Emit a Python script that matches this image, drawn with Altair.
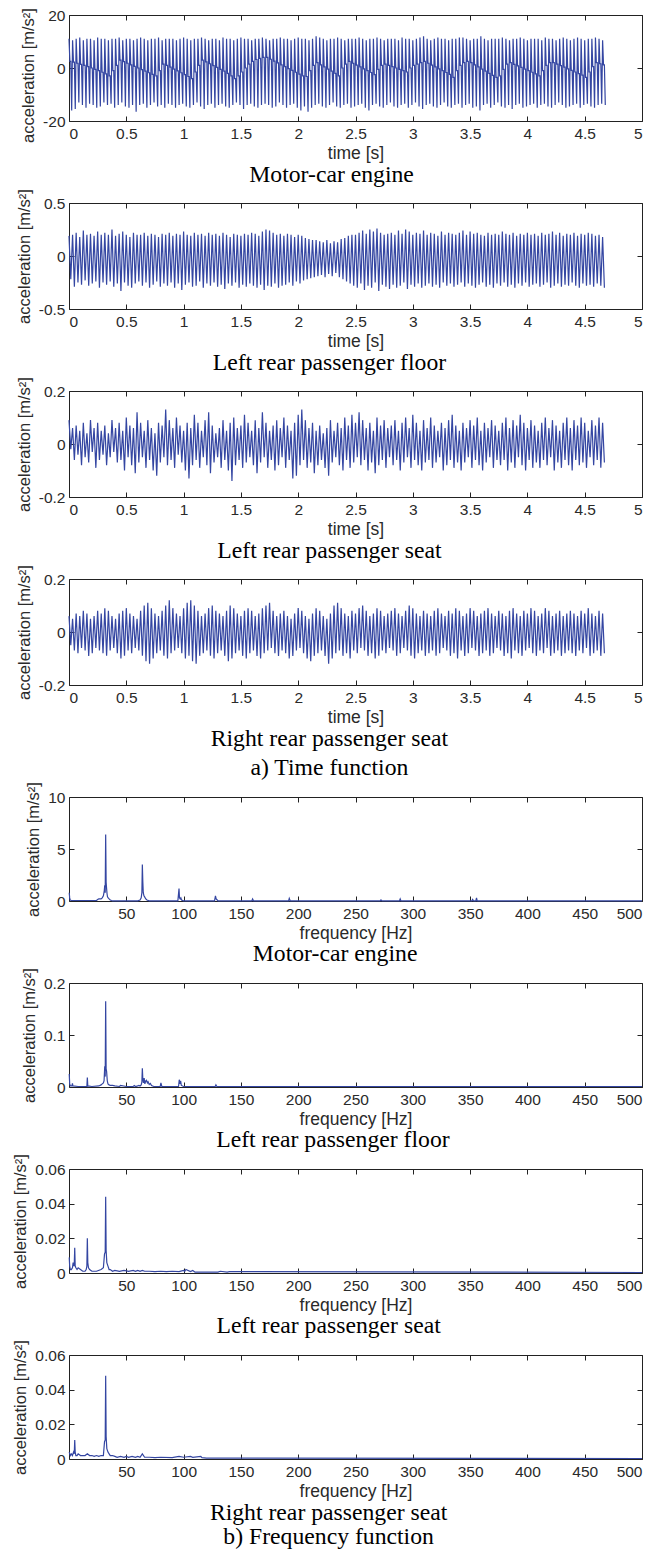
import altair as alt
import pandas as pd

# ---------------- data ----------------
DT = 1.0 / 32.0  # period of the dominant ~32 Hz oscillation [s]

# engine: per cycle, upper peak, shoulder level, lower peak
ENGINE_UP = [11, 10.5, 11, 11.5, 10.5, 11, 11, 10.5, 11.5, 11,
             11, 10.5, 11, 11, 11.5, 10.5, 11, 11, 10.5, 11,
             11.5, 11, 10.5, 11, 11, 11.5, 10.5, 11, 11, 11,
             10.5, 11, 11.5, 11, 10.5, 11, 11, 11.5, 11, 10.5,
             11, 11, 10.5, 11.5, 11, 11, 10.5, 11, 11.5, 11,
             11, 10.5, 11, 11, 11.5, 11, 10.5, 11, 11, 11.5,
             11, 11, 10.5, 11, 11.5, 11, 11, 10.5, 11, 12,
             11.5, 11, 10.5, 11, 11, 11.5, 11, 10.5, 11, 11,
             11, 11.5, 11, 10.5, 11, 11, 11.5, 11, 10.5, 11,
             11, 11, 10.5, 11.5, 11, 11, 10.5, 11, 11.5, 12,
             11, 10.5, 11, 11.5, 11, 11, 10.5, 11, 11, 11.5,
             11.5, 11, 10.5, 11, 11, 12, 11, 10.5, 11, 11,
             11, 11.5, 11, 10.5, 11, 11, 11.5, 11, 10.5, 11,
             11, 11, 10.5, 11.5, 11, 11, 10.5, 11, 11.5, 11,
             10.5, 11, 11.5, 11, 10.5, 11, 11, 11.5, 11, 10.5]
ENGINE_MID = [2.5, 2.2, 1.8, 1.4, 1, 0.5, 0, -0.5, -1, -1.6, -2.2, -3,
              -1, 1, 3,
              2.4, 1.8, 1.2, 0.6, 0, -0.6, -1.2, -1.8, -2.4, -3,
              -1, 1.5, 1, 0.3, -0.4, -1.1, -1.8, -2.5, -3.2, -4,
              -1.5, 1, 3, 2.3, 1.6, 0.9, 0.2, -0.5, -1.2, -2, -3, -4,
              -3, -1.5, 0, 1.5, 2.5, 3.2, 3.6, 4,
              4, 3.3, 2.6, 1.9, 1.2, 0.5, -0.2, -0.9, -1.6, -2.3, -3, -3.2,
              -1, 1,
              2, 1.2, 0.4, -0.4, -1.2, -2, -3,
              0, 1.5,
              2.5, 1.8, 1.1, 0.4, -0.3, -1, -1.7, -2.5,
              -0.5, 1,
              1.5, 1, 0.5, 0, -0.5, -1, -1.5,
              0, 1, 1.5, 2,
              2.5, 1.8, 1.1, 0.4, -0.3, -1, -1.7, -2.4, -3.5,
              -1, 1, 2, 2.5,
              2, 1.2, 0.4, -0.4, -1.2, -2, -2.8, -3.5, -3,
              -0.5, 1.5,
              2, 1.4, 0.8, 0.2, -0.4, -1, -1.6, -2.2, -3,
              -1, 1, 2, 2,
              1.5, 0.9, 0.3, -0.3, -0.9, -1.5, -2.1, -2.7, -3.5,
              -1.5, 0.5, 2, 1.6, 1.2]
ENGINE_LO = [-16, -15.5, -13, -14, -15, -13.5, -14, -15, -14.5, -13,
             -14, -13.5, -15, -14, -13, -14.5, -15, -14, -16.5, -14,
             -13.5, -15, -14, -13, -14.5, -14, -15, -13.5, -14, -15,
             -14, -13.5, -14.5, -15, -14, -13, -14.5, -15.5, -14, -13.5,
             -15, -14, -13.5, -14.5, -15, -14, -13, -14, -15.5, -14,
             -13.5, -14.5, -15, -14, -13.5, -14, -15, -14.5, -13, -14,
             -15, -14, -13.5, -15, -16, -14.5, -16.5, -15, -14, -13.5,
             -14.5, -15, -14, -13, -14.5, -15, -14, -13.5, -15, -14.5,
             -14, -13.5, -15, -16, -14, -13.5, -14.5, -15, -14, -13,
             -14.5, -15, -14, -13.5, -15, -14, -13, -14.5, -15.5, -14,
             -13.5, -14.5, -15, -14, -13, -14.5, -15, -14, -13.5, -15,
             -14, -13.5, -15, -14.5, -16, -14, -13.5, -15, -14, -13,
             -14.5, -15, -14, -15.5, -14, -13.5, -15, -14.5, -14, -13.5,
             -15, -14, -13.5, -14.5, -15, -14, -13, -14, -15, -14.5,
             -14, -13.5, -15, -14, -13.5, -14.5, -15, -14, -13.5, -14]

FLOOR_UP = [.19, .2, .22, .18, .24, .2, .21, .19, .23, .2,
            .22, .2, .25, .19, .21, .23, .2, .18, .22, .2,
            .2, .22, .19, .21, .2, .18, .21, .2, .22, .19,
            .21, .2, .23, .2, .19, .22, .2, .21, .19, .22,
            .2, .21, .19, .22, .2, .18, .21, .2, .19, .21,
            .2, .22, .21, .19, .23, .25, .24, .22, .2, .21,
            .19, .21, .2, .18, .2, .19, .17, .16, .15, .15,
            .14, .13, .15, .12, .14, .13, .16, .17, .19, .2,
            .2, .22, .24, .21, .25, .23, .26, .22, .2, .21,
            .22, .2, .24, .21, .25, .23, .2, .22, .21, .24,
            .2, .22, .21, .19, .23, .2, .22, .21, .2, .22,
            .24, .2, .23, .21, .22, .2, .19, .22, .2, .21,
            .2, .23, .21, .2, .22, .19, .21, .2, .22, .2,
            .21, .19, .22, .2, .21, .23, .2, .22, .19, .21,
            .2, .22, .19, .21, .2, .22, .21, .19, .2, .18]
FLOOR_LO = [-.22, -.29, -.25, -.27, -.23, -.28, -.26, -.24, -.3, -.25,
            -.27, -.24, -.29, -.26, -.33, -.25, -.28, -.3, -.26, -.24,
            -.28, -.25, -.3, -.27, -.24, -.29, -.26, -.28, -.25, -.3,
            -.26, -.32, -.27, -.25, -.29, -.28, -.24, -.3, -.26, -.28,
            -.25, -.29, -.27, -.31, -.26, -.28, -.25, -.3, -.27, -.29,
            -.26, -.28, -.3, -.27, -.32, -.28, -.29, -.26, -.3, -.28,
            -.27, -.25, -.28, -.24, -.26, -.23, -.22, -.21, -.2, -.19,
            -.18, -.2, -.17, -.19, -.16, -.2, -.22, -.24, -.26, -.28,
            -.3, -.26, -.32, -.28, -.3, -.25, -.33, -.27, -.29, -.31,
            -.27, -.3, -.28, -.25, -.31, -.27, -.29, -.26, -.3, -.28,
            -.26, -.29, -.27, -.3, -.25, -.28, -.26, -.29, -.27, -.25,
            -.29, -.26, -.28, -.3, -.27, -.25, -.29, -.27, -.3, -.26,
            -.28, -.25, -.29, -.27, -.3, -.26, -.28, -.25, -.29, -.27,
            -.26, -.29, -.27, -.25, -.3, -.28, -.26, -.29, -.27, -.28,
            -.25, -.28, -.3, -.26, -.28, -.27, -.29, -.26, -.28, -.3]

LSEAT_UP = [.09, .06, .07, .05, .08, .04, .09, .06, .08, .05,
            .07, .04, .09, .06, .08, .05, .1, .07, .06, .12,
            .08, .05, .09, .06, .04, .08, .07, .13, .09, .06,
            .1, .07, .05, .08, .06, .11, .08, .05, .09, .12,
            .07, .04, .06, .09, .05, .08, .1, .06, .07, .11,
            .08, .05, .09, .06, .12, .08, .05, .07, .09, .06,
            .1, .07, .05, .08, .11, .13, .09, .06, .08, .05,
            .07, .04, .06, .09, .05, .08, .06, .1, .07, .11,
            .08, .12, .09, .06, .08, .05, .1, .07, .09, .06,
            .07, .09, .05, .08, .1, .06, .11, .08, .05, .09,
            .06, .1, .07, .05, .08, .06, .09, .11, .07, .05,
            .08, .06, .09, .07, .1, .05, .08, .06, .09, .07,
            .05, .08, .1, .06, .09, .07, .11, .08, .06, .09,
            .07, .05, .08, .1, .06, .09, .07, .05, .08, .1,
            .06, .09, .07, .1, .08, .05, .09, .07, .1, .08]
LSEAT_LO = [-.02, -.06, -.04, -.08, -.05, -.07, -.03, -.09, -.06, -.04,
            -.08, -.05, -.03, -.07, -.06, -.1, -.05, -.08, -.11, -.07,
            -.05, -.09, -.06, -.1, -.12, -.07, -.05, -.08, -.06, -.09,
            -.04, -.07, -.1, -.13, -.08, -.06, -.09, -.05, -.08, -.11,
            -.07, -.05, -.09, -.06, -.1, -.14, -.08, -.06, -.09, -.07,
            -.05, -.08, -.11, -.07, -.05, -.09, -.06, -.1, -.08, -.05,
            -.09, -.06, -.13, -.12, -.08, -.06, -.09, -.07, -.11, -.08,
            -.06, -.09, -.12, -.07, -.05, -.08, -.1, -.06, -.09, -.07,
            -.05, -.08, -.06, -.1, -.07, -.11, -.08, -.06, -.09, -.05,
            -.08, -.06, -.1, -.07, -.05, -.09, -.06, -.08, -.1, -.07,
            -.06, -.09, -.07, -.05, -.1, -.08, -.06, -.09, -.07, -.1,
            -.07, -.05, -.09, -.06, -.08, -.1, -.07, -.05, -.09, -.06,
            -.08, -.06, -.1, -.07, -.09, -.05, -.08, -.1, -.06, -.09,
            -.07, -.09, -.06, -.08, -.05, -.1, -.07, -.09, -.06, -.08,
            -.1, -.06, -.08, -.07, -.09, -.05, -.08, -.06, -.09, -.07]

RSEAT_UP = [.06, .05, .07, .06, .08, .07, .05, .06, .08, .07,
            .09, .08, .06, .05, .07, .08, .09, .07, .06, .05,
            .08, .1, .11, .09, .07, .06, .08, .1, .12, .09,
            .07, .06, .09, .11, .12, .1, .08, .06, .07, .09,
            .1, .08, .07, .06, .08, .1, .09, .07, .06, .08,
            .09, .08, .06, .07, .09, .1, .11, .08, .06, .07,
            .08, .06, .05, .07, .09, .08, .06, .05, .07, .09,
            .08, .06, .05, .07, .1, .11, .09, .07, .06, .08,
            .07, .09, .1, .08, .06, .07, .09, .08, .06, .07,
            .08, .09, .07, .06, .08, .1, .09, .07, .06, .08,
            .07, .06, .08, .09, .07, .06, .08, .07, .09, .08,
            .06, .07, .09, .08, .06, .07, .08, .09, .07, .06,
            .08, .07, .06, .08, .09, .07, .06, .08, .07, .09,
            .08, .06, .07, .09, .08, .06, .07, .08, .06, .07,
            .08, .07, .06, .08, .07, .09, .07, .06, .08, .07]
RSEAT_LO = [-.05, -.07, -.08, -.06, -.07, -.09, -.08, -.06, -.07, -.08,
            -.09, -.07, -.06, -.08, -.1, -.09, -.07, -.08, -.06, -.07,
            -.09, -.11, -.12, -.1, -.08, -.07, -.09, -.1, -.08, -.07,
            -.06, -.08, -.1, -.09, -.11, -.12, -.09, -.08, -.07, -.09,
            -.1, -.08, -.07, -.09, -.11, -.1, -.08, -.07, -.09, -.1,
            -.08, -.07, -.09, -.1, -.08, -.07, -.06, -.08, -.09, -.07,
            -.08, -.1, -.09, -.07, -.06, -.08, -.1, -.11, -.09, -.08,
            -.07, -.09, -.12, -.1, -.08, -.07, -.09, -.08, -.1, -.07,
            -.08, -.06, -.07, -.09, -.08, -.1, -.09, -.07, -.08, -.06,
            -.07, -.09, -.08, -.06, -.07, -.09, -.1, -.08, -.07, -.09,
            -.08, -.07, -.09, -.08, -.06, -.07, -.09, -.08, -.1, -.07,
            -.09, -.08, -.06, -.07, -.09, -.08, -.07, -.09, -.08, -.06,
            -.07, -.09, -.08, -.1, -.07, -.08, -.09, -.07, -.06, -.08,
            -.09, -.07, -.08, -.06, -.09, -.08, -.07, -.09, -.08, -.07,
            -.08, -.09, -.07, -.08, -.06, -.09, -.08, -.07, -.09, -.08]

ENGINE_F = [0.2, 0.6, 1.0, 2, 24, 25, 26, 28, 29, 30,
            30.8, 31.2, 31.6, 32.0, 32.4, 32.8, 33.2, 33.6, 34.2, 35,
            36, 37, 38, 60, 62, 63, 63.6, 64.0, 64.4, 64.8,
            65.4, 66, 67, 68, 70, 95, 96.0, 96.4, 97, 97.6,
            98.2, 100, 127, 127.8, 128.4, 130, 159.6, 160.2, 161, 191.6,
            192.2, 193, 271.6, 272.2, 273, 288.4, 289, 289.6, 351.6, 352.2,
            353, 355, 355.6, 356.2, 500]
ENGINE_A = [0.8, 0.3, 0.1, 0.05, 0.05, 0.15, 0.2, 0.2, 0.3, 0.5,
            1.0, 1.5, 0.8, 6.4, 1.8, 1.2, 0.7, 0.4, 0.3, 0.2,
            0.1, 0.05, 0.02, 0.02, 0.1, 0.3, 0.8, 3.5, 1.9, 0.8,
            0.5, 0.4, 0.2, 0.1, 0.02, 0.02, 1.2, 0.3, 0.2, 0.3,
            0.1, 0.02, 0.02, 0.5, 0.2, 0.02, 0.02, 0.2, 0.02, 0.02,
            0.25, 0.02, 0.02, 0.1, 0.02, 0.02, 0.2, 0.02, 0.02, 0.15,
            0.02, 0.02, 0.3, 0.02, 0.02]

FLOOR_F = [0.2, 0.6, 1.2, 2.6, 3.0, 3.4, 8, 15.6, 16.0, 16.4,
           20, 26, 28, 29, 30, 30.6, 31.2, 31.6, 32.0, 32.4,
           32.8, 33.4, 34, 35, 36, 38, 40, 44, 45, 50,
           56, 57, 58, 60, 61, 62, 63, 63.6, 64.0, 64.4,
           65, 65.6, 66.2, 67, 67.6, 68.4, 69, 70, 71, 72,
           74, 79.6, 80.2, 81, 95.6, 96.2, 96.8, 97.4, 98, 100,
           127.6, 128.2, 129, 500]
FLOOR_A = [0.025, 0.006, 0.002, 0.002, 0.007, 0.002, 0.001, 0.001, 0.018, 0.002,
           0.001, 0.002, 0.004, 0.006, 0.008, 0.012, 0.04, 0.02, 0.165, 0.035,
           0.03, 0.012, 0.006, 0.004, 0.003, 0.003, 0.002, 0.001, 0.003, 0.001,
           0.001, 0.003, 0.001, 0.002, 0.003, 0.002, 0.004, 0.01, 0.036, 0.016,
           0.008, 0.017, 0.006, 0.012, 0.013, 0.008, 0.01, 0.005, 0.007, 0.003,
           0.001, 0.001, 0.008, 0.001, 0.001, 0.014, 0.006, 0.012, 0.003, 0.001,
           0.001, 0.004, 0.001, 0.001]

LSEAT_F = [0.2, 0.6, 1.2, 2, 3, 3.6, 4.2, 4.6, 5.0, 5.4,
           6, 7, 8, 10, 12, 14, 15, 15.6, 16.0, 16.4,
           17, 18, 20, 24, 28, 30, 31, 31.6, 32.0, 32.4,
           33, 34, 35, 36, 38, 40, 44, 48, 52, 56,
           58, 60, 62, 64, 66, 70, 75, 80, 85, 90,
           96, 100, 101, 102, 106, 108, 110, 130, 132, 138,
           140, 500]
LSEAT_A = [0.009, 0.004, 0.002, 0.002, 0.003, 0.006, 0.004, 0.005, 0.0145, 0.004,
           0.003, 0.002, 0.003, 0.002, 0.001, 0.001, 0.002, 0.004, 0.02, 0.006,
           0.003, 0.002, 0.001, 0.001, 0.002, 0.003, 0.011, 0.012, 0.044, 0.013,
           0.006, 0.004, 0.002, 0.002, 0.001, 0.0015, 0.001, 0.0015, 0.001, 0.0015,
           0.001, 0.0015, 0.001, 0.0015, 0.001, 0.001, 0.0008, 0.001, 0.0008, 0.001,
           0.0008, 0.0015, 0.001, 0.002, 0.0008, 0.0015, 0.0005, 0.0005, 0.001, 0.0005,
           0.0008, 0.0003]

RSEAT_F = [0.2, 0.6, 1.2, 2, 3, 4, 4.6, 5.0, 5.4, 6,
           7, 8, 10, 12, 14, 16, 18, 20, 22, 24,
           26, 28, 30, 31, 31.6, 32.0, 32.4, 33, 34, 35,
           36, 38, 40, 42, 45, 48, 50, 52, 55, 58,
           60, 62, 64, 66, 70, 75, 80, 90, 96, 100,
           106, 108, 115, 116, 120, 500]
RSEAT_A = [0.004, 0.003, 0.002, 0.003, 0.002, 0.004, 0.003, 0.011, 0.004, 0.002,
           0.002, 0.003, 0.002, 0.002, 0.002, 0.003, 0.002, 0.002, 0.0015, 0.002,
           0.0015, 0.002, 0.002, 0.01, 0.011, 0.048, 0.013, 0.006, 0.004, 0.003,
           0.002, 0.002, 0.0015, 0.001, 0.0015, 0.001, 0.0015, 0.001, 0.0015, 0.001,
           0.0015, 0.001, 0.003, 0.001, 0.001, 0.0008, 0.001, 0.0008, 0.0015, 0.001,
           0.0015, 0.001, 0.0015, 0.0008, 0.0005, 0.0003]

TIME_TICKS = [0, 0.5, 1, 1.5, 2, 2.5, 3, 3.5, 4, 4.5, 5]
FREQ_TICKS = [50, 100, 150, 200, 250, 300, 350, 400, 450, 500]
CAPTIONS = ["Motor-car engine", "Left rear passenger floor",
            "Left rear passenger seat", "Right rear passenger seat"]
GROUP_TITLES = ["a) Time function", "b) Frequency function"]
YTITLE = "acceleration [m/s²]"

# ---------------- style ----------------
SANS = "Liberation Sans"
SERIF = "Liberation Serif"
BLUE = "#3446a2"
FRAME = "#222222"
TXT = "#2a2a2a"
W = 573


def time_df(up, lo, mid=None):
    """One cycle per list entry: peak, (shoulder, shoulder), trough."""
    n = min(len(up), len(lo)) if mid is None else min(len(up), len(lo), len(mid))
    t, a = [], []
    for i in range(n):
        t0 = i * DT
        if mid is None:
            t += [t0, t0 + DT / 2]
            a += [up[i], lo[i]]
        else:
            t += [t0, t0 + DT / 4, t0 + DT / 2, t0 + 3 * DT / 4]
            a += [up[i], mid[i], mid[i], lo[i]]
    return pd.DataFrame({"x": t, "y": a})


def freq_df(f, a):
    n = min(len(f), len(a))
    return pd.DataFrame({"x": f[:n], "y": a[:n]})


AX = dict(domain=False, grid=False, tickColor=FRAME, tickSize=5, offset=-5,
          tickWidth=1, labelFont=SANS, labelFontSize=15.5, labelColor=TXT,
          titleFont=SANS, titleColor=TXT,
          titleFontWeight="normal", labelExpr="'' + datum.value")


def panel(df, xdom, xticks, xtitle, ydom, yticks, caption, h, cap_offset,
          ytitle_shift=0, line_height=29):
    xs = alt.Scale(domain=xdom, nice=False, zero=False)
    ys = alt.Scale(domain=ydom, nice=False, zero=False)
    base = alt.Chart(df)
    yaxis_kw = dict(orient="left", values=yticks, title=YTITLE,
                    titleFontSize=16.5, labelPadding=4, titlePadding=6, **AX)
    if ytitle_shift:
        yaxis_kw["titleY"] = h / 2 + ytitle_shift
    line = base.mark_line(color=BLUE, strokeWidth=1.2).encode(
        x=alt.X("x:Q", scale=xs,
                axis=alt.Axis(orient="bottom", values=xticks, title=xtitle,
                              titleFontSize=17.5, labelPadding=5,
                              titlePadding=3, **AX)),
        y=alt.Y("y:Q", scale=ys, axis=alt.Axis(**yaxis_kw)),
        order=alt.Order("x:Q"),
    )
    ghost = base.mark_line(opacity=0).encode(
        x=alt.X("x:Q", scale=xs,
                axis=alt.Axis(orient="top", values=xticks, labels=False,
                              title=None, **AX)),
        y=alt.Y("y:Q", scale=ys,
                axis=alt.Axis(orient="right", values=yticks, labels=False,
                              title=None, **AX)),
        order=alt.Order("x:Q"),
    )
    return alt.layer(line, ghost).properties(
        width=W, height=h,
        title=alt.TitleParams(caption, orient="bottom", anchor="middle",
                              frame="bounds", font=SERIF, fontSize=23.7,
                              fontWeight="normal", color="black",
                              baseline="top", offset=cap_offset,
                              lineHeight=line_height),
    )


time_sets = [(time_df(ENGINE_UP, ENGINE_LO, ENGINE_MID), [-20, 20], [-20, 0, 20]),
             (time_df(FLOOR_UP, FLOOR_LO), [-0.5, 0.5], [-0.5, 0, 0.5]),
             (time_df(LSEAT_UP, LSEAT_LO), [-0.2, 0.2], [-0.2, 0, 0.2]),
             (time_df(RSEAT_UP, RSEAT_LO), [-0.2, 0.2], [-0.2, 0, 0.2])]
freq_sets = [(ENGINE_F, ENGINE_A, [0, 10], [0, 5, 10]),
             (FLOOR_F, FLOOR_A, [0, 0.2], [0, 0.1, 0.2]),
             (LSEAT_F, LSEAT_A, [0, 0.06], [0, 0.02, 0.04, 0.06]),
             (RSEAT_F, RSEAT_A, [0, 0.06], [0, 0.02, 0.04, 0.06])]

panels = []
for i, (df, yd, yt) in enumerate(time_sets):
    cap = CAPTIONS[i] if i < 3 else [CAPTIONS[i], GROUP_TITLES[0]]
    panels.append(panel(df, [0, 5], TIME_TICKS, "time [s]",
                        yd, yt, cap, 106, 1,
                        ytitle_shift=7 if i == 0 else 0, line_height=29))
for i, (f, a, yd, yt) in enumerate(freq_sets):
    cap = CAPTIONS[i] if i < 3 else [CAPTIONS[i], GROUP_TITLES[1]]
    panels.append(panel(freq_df(f, a), [0, 500], FREQ_TICKS, "frequency [Hz]",
                        yd, yt, cap, 104, 0 if i < 3 else 1, line_height=24))

chart = alt.vconcat(*panels, spacing=0).properties(
    padding={"left": 4, "top": -1, "right": 4, "bottom": 0},
    background="white",
).configure_view(stroke=FRAME, strokeWidth=1)

chart.save("out.html", embed_options={"renderer": "svg", "actions": False})
